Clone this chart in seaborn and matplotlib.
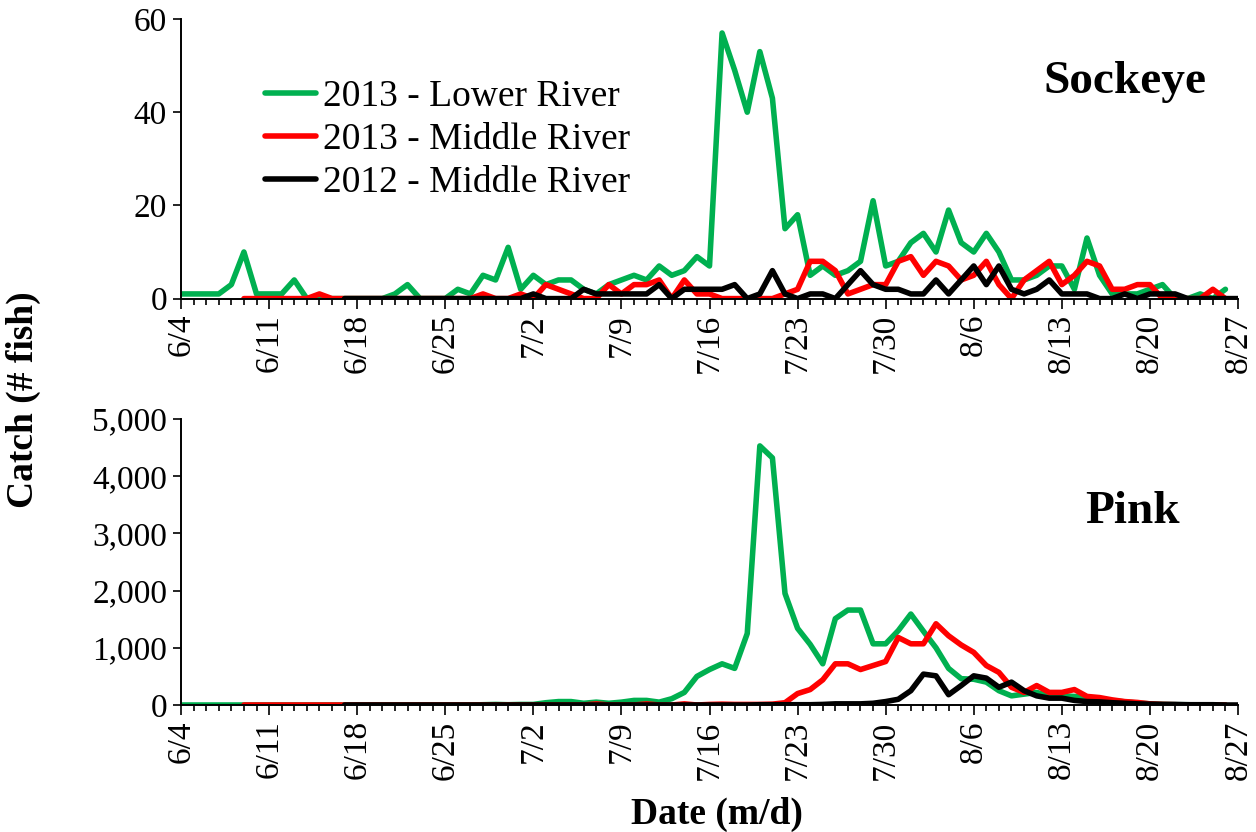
import numpy as np
import pandas as pd
import matplotlib
matplotlib.use("Agg")
import matplotlib.pyplot as plt
import seaborn as sns
from matplotlib.ticker import MultipleLocator, FuncFormatter, FixedLocator

# ---------------- data ----------------
series_names = ["2013 - Lower River", "2013 - Middle River", "2012 - Middle River"]
series_colors = ["#00B050", "#FF0000", "#000000"]
series_start = ["6/4", "6/9", "6/17"]   # first date of each series

date_labels = ["6/4", "6/11", "6/18", "6/25", "7/2", "7/9", "7/16",
               "7/23", "7/30", "8/6", "8/13", "8/20", "8/27"]

# Sockeye daily catch (# fish)
sockeye_lower_2013 = [1, 1, 1, 1, 3, 10, 1, 1, 1, 4, 0, 0, 0, 0, 0, 0, 0, 1, 3, 0,
                      0, 0, 2, 1, 5, 4, 11, 2, 5, 3, 4, 4, 2, 1, 3, 4, 5, 4, 7, 5,
                      6, 9, 7, 57, 49, 40, 53, 43, 15, 18, 5, 7, 5, 6, 8, 21, 7, 8, 12, 14,
                      10, 19, 12, 10, 14, 10, 4, 4, 5, 7, 7, 2, 13, 5, 1, 1, 1, 2, 3, 0,
                      0, 1, 0, 2]
sockeye_middle_2013 = [0, 0, 0, 0, 0, 0, 1, 0, 0, 0, 0, 0, 0, 0, 0, 0, 0, 0, 0, 1,
                       0, 0, 1, 0, 3, 2, 1, 0, 0, 3, 1, 3, 3, 4, 0, 4, 1, 1, 0, 0,
                       0, 0, 0, 1, 2, 8, 8, 6, 1, 2, 3, 3, 8, 9, 5, 8, 7, 4, 5, 8,
                       3, 0, 4, 6, 8, 3, 5, 8, 7, 2, 2, 3, 3, 0, 0, 0, 0, 2, 0]
sockeye_middle_2012 = [0, 0, 0, 0, 0, 0, 0, 0, 0, 0, 0, 0, 0, 0, 0, 1, 0, 0, 0, 2,
                       1, 1, 1, 1, 1, 3, 0, 2, 2, 2, 2, 3, 0, 1, 6, 1, 0, 1, 1, 0,
                       3, 6, 3, 2, 2, 1, 1, 4, 1, 4, 7, 3, 7, 2, 1, 2, 4, 1, 1, 1,
                       0, 0, 1, 0, 1, 1, 1, 0, 0, 0, 0, 0]

# Pink daily catch (# fish)
pink_lower_2013 = [0, 0, 0, 0, 0, 0, 0, 0, 0, 0, 0, 0, 0, 0, 0, 0, 0, 0, 0, 0,
                   0, 0, 0, 0, 5, 10, 5, 10, 10, 40, 60, 60, 30, 50, 30, 50, 80, 80, 50, 110,
                   220, 500, 620, 720, 640, 1250, 4530, 4320, 1950, 1340, 1060, 720, 1510, 1660, 1660, 1070,
                   1070, 1300, 1590, 1290, 1000, 640, 460, 450, 400, 250, 160, 190, 220, 160,
                   160, 150, 130, 100, 75, 55, 35, 20, 10, 5, 5, 0, 0, 0]
pink_middle_2013 = [0, 0, 0, 0, 0, 0, 0, 0, 0, 0, 0, 0, 0, 0, 0, 0, 0, 0, 0, 0,
                    0, 0, 0, 0, 0, 0, 0, 0, 20, 0, 0, 0, 20, 0, 0, 20, 0, 10, 15, 10,
                    10, 10, 15, 40, 200, 270, 440, 720, 720, 620, 690, 760, 1180, 1070, 1070, 1420,
                    1210, 1050, 920, 690, 570, 310, 220, 340, 220, 220, 270, 150, 130, 90,
                    60, 45, 20, 10, 5, 0, 0, 0, 0]
pink_middle_2012 = [0, 0, 0, 0, 0, 0, 0, 0, 0, 0, 0, 0, 0, 0, 0, 0, 0, 0, 0, 0,
                    0, 0, 0, 0, 0, 0, 0, 0, 0, 0, 0, 0, 0, 5, 5, 5, 5, 5, 10, 20,
                    20, 20, 30, 60, 100, 250, 540, 510, 180, 340, 510, 470, 310, 400, 250, 160,
                    120, 120, 80, 60, 55, 40, 30, 20, 15, 10, 10, 5, 5, 5, 0, 0]

# ---------------- build tables ----------------
base = pd.Timestamp("2013-06-04")


def to_day(md):
    m, d = md.split("/")
    return (pd.Timestamp(year=2013, month=int(m), day=int(d)) - base).days


def build(values_list):
    frames = []
    for name, start, vals in zip(series_names, series_start, values_list):
        d0 = to_day(start)
        frames.append(pd.DataFrame({"day": np.arange(d0, d0 + len(vals)),
                                    "catch": vals, "series": name}))
    return pd.concat(frames, ignore_index=True)


df_sock = build([sockeye_lower_2013, sockeye_middle_2013, sockeye_middle_2012])
df_pink = build([pink_lower_2013, pink_middle_2013, pink_middle_2012])

# ---------------- style ----------------
sns.set_theme(style="white")
plt.rcParams["font.family"] = ["Liberation Serif", "DejaVu Serif"]
plt.rcParams["lines.solid_joinstyle"] = "round"
plt.rcParams["lines.solid_capstyle"] = "round"
for k in ["text.color", "axes.labelcolor", "xtick.color", "ytick.color", "axes.edgecolor"]:
    plt.rcParams[k] = "black"

W, H = 1256, 832
fig = plt.figure(figsize=(W / 100, H / 100), dpi=100)
fig.patch.set_facecolor("white")

left_px, right_px = 181, 1238
ax1 = fig.add_axes([left_px / W, 1 - 298.6 / H, (right_px - left_px) / W, (298.6 - 19) / H])
ax2 = fig.add_axes([left_px / W, 1 - 705 / H, (right_px - left_px) / W, (705 - 419) / H])

palette = dict(zip(series_names, series_colors))
tick_days = [to_day(t) for t in date_labels]

for ax, df in [(ax1, df_sock), (ax2, df_pink)]:
    sns.lineplot(data=df, x="day", y="catch", hue="series", hue_order=series_names,
                 palette=palette, linewidth=4.0, estimator=None, sort=True,
                 legend=(ax is ax1), ax=ax)
    ax.set_xlim(tick_days[0], tick_days[-1])
    ax.xaxis.set_major_locator(FixedLocator(tick_days))
    ax.set_xticklabels(date_labels, rotation=90, fontsize=24, color="black")
    ax.xaxis.set_minor_locator(MultipleLocator(1))
    ax.tick_params(axis="x", which="major", direction="out", length=7, width=1.2,
                   bottom=True, colors="black", pad=4)
    ax.tick_params(axis="x", which="minor", direction="out", length=4, width=1.2,
                   bottom=True, colors="black")
    ax.tick_params(axis="y", which="major", direction="out", length=6, width=1.2,
                   left=True, labelsize=24, colors="black", pad=4)
    for s in ["top", "right"]:
        ax.spines[s].set_visible(False)
    for s in ["left", "bottom"]:
        ax.spines[s].set_linewidth(1.4)
        ax.spines[s].set_color("black")
    ax.set_xlabel("")
    ax.set_ylabel("")
    ax.grid(False)
    ax.set_facecolor("white")

ax1.set_ylim(0, 60)
ax1.set_yticks([0, 20, 40, 60])
ax2.set_ylim(0, 5000)
ax2.set_yticks([0, 1000, 2000, 3000, 4000, 5000])
ax2.yaxis.set_major_formatter(FuncFormatter(lambda v, p: f"{v:,.0f}"))

handles, labels = ax1.get_legend_handles_labels()
leg = ax1.legend(handles, labels, loc="upper left", bbox_to_anchor=(0.0795, 0.784),
                 frameon=False, fontsize=27, handlelength=1.35, handletextpad=0.2,
                 labelspacing=0.23, borderpad=0, borderaxespad=0)
for t in leg.get_texts():
    t.set_color("black")

ax1.text(0.893, 0.775, "Sockeye", transform=ax1.transAxes, ha="center", va="center",
         fontsize=34, fontweight="bold", color="black")
ax2.text(0.900, 0.675, "Pink", transform=ax2.transAxes, ha="center", va="center",
         fontsize=34, fontweight="bold", color="black")

fig.text(23 / W, 1 - 400 / H, "Catch (# fish)", rotation=90, ha="center", va="center",
         fontsize=27, fontweight="bold", color="black")
fig.text(717 / W, 1 - 814 / H, "Date (m/d)", ha="center", va="center",
         fontsize=27, fontweight="bold", color="black")

fig.savefig("out.png", dpi=100, facecolor="white")
